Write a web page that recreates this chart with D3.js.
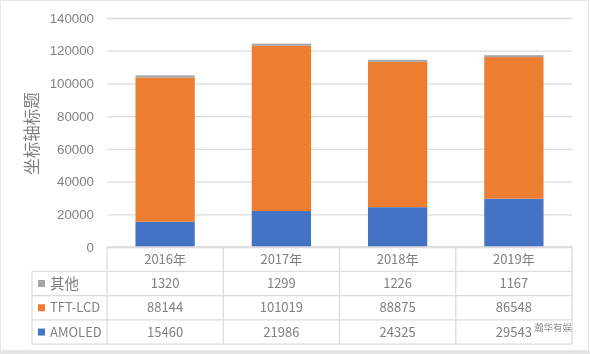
<!DOCTYPE html>
<html>
<head>
<meta charset="utf-8">
<script src="https://cdn.jsdelivr.net/npm/d3@7"></script>
<style>
  html, body { margin: 0; padding: 0; background: #fff; }
  svg { display: block; font-family: "Noto Sans CJK SC", "Liberation Sans", sans-serif; filter: blur(0.45px); }
</style>
</head>
<body>
<div id="chart"></div>
<script>
const years = ["2016年", "2017年", "2018年", "2019年"];
const seriesNames = ["AMOLED", "TFT-LCD", "其他"];
const amoled = [15460, 21986, 24325, 29543];
const tft = [88144, 101019, 88875, 86548];
const other = [1320, 1299, 1226, 1167];
const yTicks = [0, 20000, 40000, 60000, 80000, 100000, 120000, 140000];
const colors = ["#4472c4", "#ed7d31", "#a5a5a5"];

const width = 590, height = 354;
const margin = { top: 18, right: 18, bottom: 107, left: 107 };
const legendLeft = 32;
const rowH = 24.3;
const textColor = "#808080", lineColor = "#dcdcdc";

const svg = d3.select("#chart").append("svg")
    .attr("width", width)
    .attr("height", height)
    .attr("viewBox", [0, 0, width, height]);

const x = d3.scaleBand()
    .domain(years)
    .range([margin.left, width - margin.right]);

const y = d3.scaleLinear()
    .domain([0, 140000])
    .range([height - margin.bottom, margin.top]);

const rows = seriesNames.map((name, i) => ({ name, values: [amoled, tft, other][i], color: colors[i] }));

const table = years.map((year, i) => ({ year, AMOLED: amoled[i], "TFT-LCD": tft[i], "其他": other[i] }));
const stacked = d3.stack().keys(seriesNames)(table);

//outer picture edge
svg.append("rect")
    .attr("x", 0.5).attr("y", 0.5)
    .attr("width", width - 2).attr("height", height - 4)
    .attr("fill", "none")
    .attr("stroke", "#e8e8e8");
svg.append("rect")
    .attr("x", 0).attr("y", height - 3)
    .attr("width", width).attr("height", 3)
    .attr("fill", "#e4e4e4");

//y axis with gridlines
const yAxis = svg.append("g")
    .attr("transform", `translate(${margin.left},0)`)
    .call(d3.axisLeft(y).tickValues(yTicks).tickFormat(d3.format("d")).tickSize(-(width - margin.left - margin.right)).tickPadding(13));
yAxis.select(".domain").remove();
yAxis.selectAll(".tick line").attr("stroke", lineColor).attr("stroke-width", 1.3);
yAxis.selectAll(".tick text").attr("fill", textColor).attr("font-size", 13.3).attr("font-family", "inherit");

svg.append("text")
    .attr("transform", "translate(38,133.5) rotate(-90)")
    .attr("text-anchor", "middle")
    .attr("fill", textColor)
    .attr("font-size", 16.5)
    .text("坐标轴标题");

//stacked bars
svg.append("g").selectAll("g")
    .data(stacked)
    .join("g")
    .attr("fill", (d, i) => colors[i])
    .selectAll("rect")
    .data(d => d)
    .join("rect")
    .attr("x", d => x(d.data.year) + x.bandwidth() * 0.245)
    .attr("width", x.bandwidth() * 0.51)
    .attr("y", d => y(d[1]))
    .attr("height", d => y(d[0]) - y(d[1]));

//data table
const tableTop = height - margin.bottom;
const rowY = i => tableTop + i * rowH;
const grid = svg.append("g").attr("stroke", lineColor).attr("stroke-width", 1.3);

d3.range(5).forEach(i => {
    grid.append("line")
        .attr("x1", i === 0 ? margin.left : legendLeft)
        .attr("x2", width - margin.right)
        .attr("y1", rowY(i)).attr("y2", rowY(i));
});
d3.range(5).forEach(i => {
    const xPos = margin.left + i * x.step();
    grid.append("line")
        .attr("x1", xPos).attr("x2", xPos)
        .attr("y1", rowY(0)).attr("y2", rowY(4));
});
grid.append("line")
    .attr("x1", legendLeft).attr("x2", legendLeft)
    .attr("y1", rowY(1)).attr("y2", rowY(4));

const cellText = (px, py, str, anchor, size) => svg.append("text")
    .attr("x", px).attr("y", py)
    .attr("dy", "0.36em")
    .attr("text-anchor", anchor || "middle")
    .attr("fill", textColor)
    .attr("font-size", size || 13)
    .text(str);

years.forEach(year => cellText(x(year) + x.bandwidth() / 2, rowY(0.5), year));

//table rows run top to bottom, the reverse of the stack order
rows.slice().reverse().forEach((row, r) => {
    const cy = rowY(r + 1.5);
    svg.append("rect")
        .attr("x", 38).attr("y", cy - 3.5)
        .attr("width", 7).attr("height", 7)
        .attr("fill", row.color);
    cellText(50, cy, row.name, "start", row.name === "其他" ? 14.5 : 13);
    row.values.forEach((v, i) => {
        cellText(x(years[i]) + x.bandwidth() / 2, cy, v);
    });
});

//watermark, shrunk a little so the last AMOLED value stays readable
svg.append("text")
    .attr("x", 572).attr("y", 331)
    .attr("text-anchor", "end")
    .attr("fill", "#8f8f8f")
    .attr("font-size", 9.5)
    .text("瀚华有娱");
</script>
</body>
</html>
